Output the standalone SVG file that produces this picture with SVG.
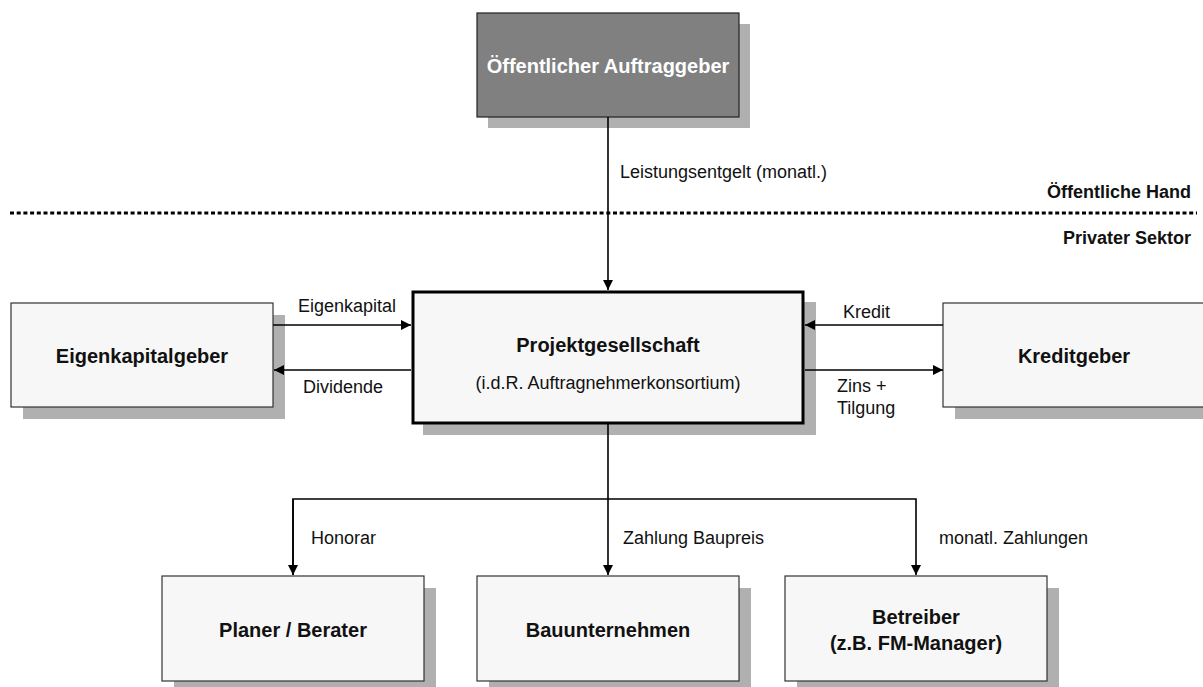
<svg xmlns="http://www.w3.org/2000/svg" width="1203" height="687" viewBox="0 0 1203 687">
<style>
.box{fill:#f7f7f7;stroke:#333;stroke-width:1.2}
.shadow{fill:#b0b0b0}
.t{font-family:"Liberation Sans",Arial,sans-serif;font-size:18px;fill:#111}
.b{font-family:"Liberation Sans",Arial,sans-serif;font-size:20px;font-weight:bold;fill:#111;text-anchor:middle}
.h{font-family:"Liberation Sans",Arial,sans-serif;font-size:18px;font-weight:bold;fill:#111;text-anchor:end}
.c{fill:none;stroke:#000;stroke-width:1.6}
</style>
<defs>
<marker id="arr" viewBox="0 0 10 10" refX="10" refY="5" markerWidth="10" markerHeight="10" markerUnits="userSpaceOnUse" orient="auto">
<path d="M0,0 L10,5 L0,10 Z" fill="#000"/>
</marker>
</defs>
<rect width="1203" height="687" fill="#fff"/>
<line x1="10" y1="213" x2="1197" y2="213" stroke="#000" stroke-width="3" stroke-dasharray="4 2.7"/>
<text class="h" x="1191" y="198">Öffentliche Hand</text>
<text class="h" x="1191" y="244">Privater Sektor</text>
<g id="auftraggeber">
<rect class="shadow" x="488" y="24" width="262" height="104"/>
<rect x="477" y="13" width="262" height="104" fill="#808080" stroke="#222" stroke-width="1.2"/>
<text class="b" x="608" y="73" style="fill:#fff">Öffentlicher Auftraggeber</text>
</g>
<g id="eigenkapitalgeber">
<rect class="shadow" x="23" y="315" width="262" height="104"/>
<rect class="box" x="11" y="303" width="262" height="104"/>
<text class="b" x="142" y="363">Eigenkapitalgeber</text>
</g>
<g id="projektgesellschaft">
<rect class="shadow" x="423" y="302" width="393" height="133"/>
<rect x="413" y="292" width="390" height="131" fill="#f7f7f7" stroke="#000" stroke-width="3"/>
<text class="b" x="608" y="352">Projektgesellschaft</text>
<text class="t" x="608" y="388.5" text-anchor="middle">(i.d.R. Auftragnehmerkonsortium)</text>
</g>
<g id="kreditgeber">
<rect class="shadow" x="955" y="315" width="262" height="104"/>
<rect class="box" x="943" y="303" width="262" height="104"/>
<text class="b" x="1074" y="363">Kreditgeber</text>
</g>
<g id="planer">
<rect class="shadow" x="174" y="588" width="262" height="105"/>
<rect class="box" x="162" y="576" width="262" height="105"/>
<text class="b" x="293" y="636.5">Planer / Berater</text>
</g>
<g id="bauunternehmen">
<rect class="shadow" x="489" y="588" width="262" height="105"/>
<rect class="box" x="477" y="576" width="262" height="105"/>
<text class="b" x="608" y="636.5">Bauunternehmen</text>
</g>
<g id="betreiber">
<rect class="shadow" x="797" y="588" width="262" height="105"/>
<rect class="box" x="785" y="576" width="262" height="105"/>
<text class="b" x="916" y="624">Betreiber</text>
<text class="b" x="916" y="650">(z.B. FM-Manager)</text>
</g>
<g id="connectors">
<line class="c" x1="608" y1="117" x2="608" y2="290" marker-end="url(#arr)"/>
<line class="c" x1="273" y1="325" x2="411" y2="325" marker-end="url(#arr)"/>
<line class="c" x1="411" y1="370" x2="274" y2="370" marker-end="url(#arr)"/>
<line class="c" x1="943" y1="325" x2="805" y2="325" marker-end="url(#arr)"/>
<line class="c" x1="805" y1="370" x2="943" y2="370" marker-end="url(#arr)"/>
<line class="c" x1="608" y1="424" x2="608" y2="575" marker-end="url(#arr)"/>
<polyline class="c" points="293,575 293,499 916,499 916,575" marker-end="url(#arr)"/>
<line class="c" x1="293" y1="499" x2="293" y2="575" marker-end="url(#arr)"/>
<text class="t" x="620" y="178">Leistungsentgelt (monatl.)</text>
<text class="t" x="298" y="312">Eigenkapital</text>
<text class="t" x="303" y="393">Dividende</text>
<text class="t" x="843" y="318">Kredit</text>
<text class="t" x="837" y="392">Zins +</text>
<text class="t" x="837" y="414">Tilgung</text>
<text class="t" x="311" y="544">Honorar</text>
<text class="t" x="623" y="544">Zahlung Baupreis</text>
<text class="t" x="939" y="543.5">monatl. Zahlungen</text>
</g>
</svg>
